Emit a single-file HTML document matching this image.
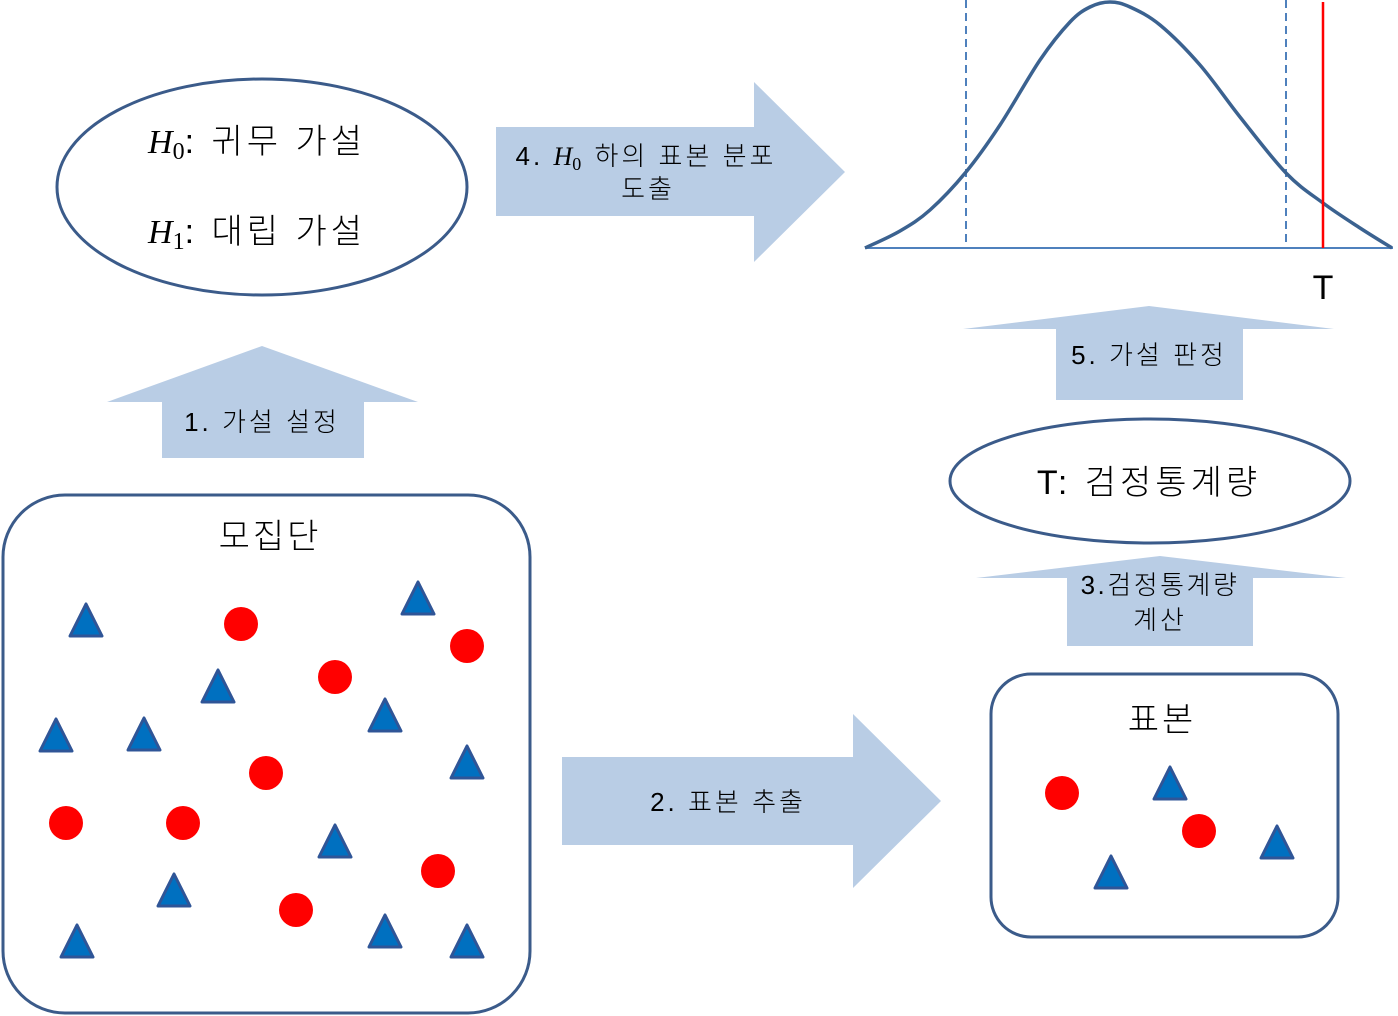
<!DOCTYPE html>
<html><head><meta charset="utf-8"><style>
body{margin:0;background:#fff}
svg{display:block}
text{font-family:"Liberation Sans","Noto Sans CJK KR",sans-serif;fill:#000;font-weight:300}
.it{font-family:"Liberation Serif","DejaVu Serif",serif;font-style:italic}
.up{font-family:"Liberation Serif","DejaVu Serif",serif;font-style:normal}
</style></head><body>
<svg id="s" width="1398" height="1016" viewBox="0 0 1398 1016">
<g>
<ellipse cx="262" cy="187" rx="205" ry="108" fill="#fff" stroke="#3b5b8a" stroke-width="3"/>
<text x="148" y="153" font-size="34" letter-spacing="4"><tspan class="it" letter-spacing="0">H</tspan><tspan font-size="24" dy="6" class="up" letter-spacing="0">0</tspan><tspan dy="-6">: 귀무 가설</tspan></text>
<text x="148" y="243" font-size="34" letter-spacing="4"><tspan class="it" letter-spacing="0">H</tspan><tspan font-size="24" dy="6" class="up" letter-spacing="0">1</tspan><tspan dy="-6">: 대립 가설</tspan></text>
</g>
<g fill="#b9cde5">
<path d="M107,402 L262,346 L418,402 L364,402 L364,458 L162,458 L162,402 Z"/>
<path d="M562,757 L853,757 L853,714 L941,801 L853,888 L853,845 L562,845 Z"/>
<path d="M976,578 L1160,556 L1346,578 L1253,578 L1253,646 L1067,646 L1067,578 Z"/>
<path d="M963,329 L1149,306 L1334,329 L1243,329 L1243,400 L1056,400 L1056,329 Z"/>
<path d="M496,127 L754,127 L754,82 L845,172 L754,262 L754,216 L496,216 Z"/>
</g>
<text x="262" y="431" font-size="26" letter-spacing="3" text-anchor="middle">1. 가설 설정</text>
<text x="728" y="811" font-size="26" letter-spacing="3" text-anchor="middle">2. 표본 추출</text>
<text x="1160" y="594" font-size="26" letter-spacing="2.5" text-anchor="middle">3.검정통계량</text>
<text x="1160" y="629" font-size="26" letter-spacing="3" text-anchor="middle">계산</text>
<text x="1149" y="364" font-size="26" letter-spacing="3" text-anchor="middle">5. 가설 판정</text>
<text x="646" y="165" font-size="26" letter-spacing="3" text-anchor="middle">4. <tspan class="it" letter-spacing="0">H</tspan><tspan font-size="18" dy="5" class="up">0</tspan><tspan dy="-5"> 하의 표본 분포</tspan></text>
<text x="648" y="198" font-size="26" letter-spacing="3" text-anchor="middle">도출</text>
<rect x="3" y="495" width="527" height="518" rx="62" fill="#fff" stroke="#3b5b8a" stroke-width="3"/>
<text x="270" y="548" font-size="34" letter-spacing="3" text-anchor="middle">모집단</text>
<rect x="991" y="674" width="347" height="263" rx="40" fill="#fff" stroke="#3b5b8a" stroke-width="3"/>
<text x="1162" y="731" font-size="34" letter-spacing="3" text-anchor="middle">표본</text>
<ellipse cx="1150" cy="481" rx="200" ry="62" fill="#fff" stroke="#3b5b8a" stroke-width="3"/>
<text x="1149" y="494" font-size="34" letter-spacing="4" text-anchor="middle">T: 검정통계량</text>
<line x1="865" y1="248" x2="1393" y2="248" stroke="#4f81bd" stroke-width="2"/>
<line x1="966" y1="0" x2="966" y2="247" stroke="#4f81bd" stroke-width="2" stroke-dasharray="8,5"/>
<line x1="1286" y1="0" x2="1286" y2="247" stroke="#4f81bd" stroke-width="2" stroke-dasharray="8,5"/>
<path id="curve" fill="none" stroke="#3b6290" stroke-width="3.5"/>
<line x1="1323" y1="2" x2="1323" y2="248" stroke="#ff0000" stroke-width="2.5"/>
<text x="1323" y="299" font-size="34" text-anchor="middle">T</text>
<g id="marks"></g>
</svg>
<script>
const curveX=[865,900,930,966,1000,1040,1070,1090,1110,1130,1160,1200,1240,1286,1323,1360,1392];
const curveY=[248,231,210,172,125,60,22,7,2,7,25,65,117,173,203,228,248];
const triX=[86,418,218,56,144,385,467,335,174,77,385,467,1170,1277,1111];
const triY=[620,598,686,735,734,715,762,841,890,941,931,941,783,842,872];
const cirX=[241,467,335,266,66,183,438,296,1062,1199];
const cirY=[624,646,677,773,823,823,871,910,793,831];
(function(){
  let P=curveX.map((x,i)=>[x,curveY[i]]);
  let d="M"+P[0][0]+","+P[0][1];
  for(let i=0;i<P.length-1;i++){
    const p0=P[Math.max(0,i-1)],p1=P[i],p2=P[i+1],p3=P[Math.min(P.length-1,i+2)];
    d+=" C"+(p1[0]+(p2[0]-p0[0])/6)+","+(p1[1]+(p2[1]-p0[1])/6)+" "+(p2[0]-(p3[0]-p1[0])/6)+","+(p2[1]-(p3[1]-p1[1])/6)+" "+p2[0]+","+p2[1];
  }
  document.getElementById('curve').setAttribute('d',d);
  const g=document.getElementById('marks'),ns="http://www.w3.org/2000/svg";
  triX.forEach((x,i)=>{
    const y=triY[i];const t=document.createElementNS(ns,'polygon');
    t.setAttribute('points',`${x},${y-16} ${x+16},${y+16} ${x-16},${y+16}`);
    t.setAttribute('fill','#0070c0');t.setAttribute('stroke','#2f5597');t.setAttribute('stroke-width','3');t.setAttribute('stroke-linejoin','round');
    
    
    g.appendChild(t);
  });
  cirX.forEach((x,i)=>{
    const c=document.createElementNS(ns,'circle');
    c.setAttribute('cx',x);c.setAttribute('cy',cirY[i]);c.setAttribute('r',17);c.setAttribute('fill','#ff0000');
    
    
    g.appendChild(c);
  });
})();
</script>
</body></html>
